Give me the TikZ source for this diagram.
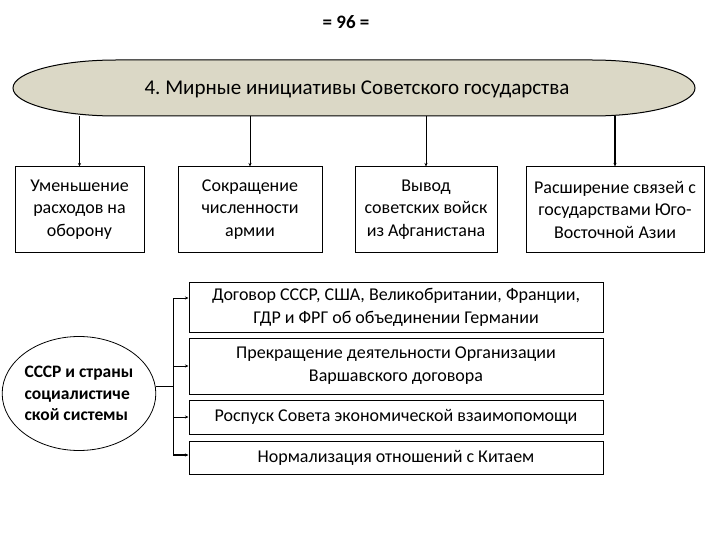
\documentclass[tikz,border=0pt]{standalone}
\usepackage{fontspec}
\setmainfont{Carlito}
\frenchspacing
\usetikzlibrary{arrows.meta,shapes.geometric}
\definecolor{ellfill}{RGB}{219,216,198}
\begin{document}
\begin{tikzpicture}[x=1pt,y=-1pt,
  boxA/.style={draw=black,line width=1pt,align=center,inner sep=2pt,
    font=\fontsize{18}{22.5}\selectfont},
  boxB/.style={draw=black,line width=1pt,align=center,inner sep=2pt,minimum width=414pt,
    font=\fontsize{18}{23}\selectfont},
  conn/.style={draw=black,line width=0.7pt},
  arr/.style={conn,-{Stealth[length=3.5pt,width=3pt]}},
]
\useasboundingbox (0,0) rectangle (720,540);
% page number
\node[font=\fontsize{19}{20}\selectfont\bfseries] (pg) at (346,22) {= 96 =};
% top ellipse
\path[fill=ellfill,draw=black,line width=1pt]
  (116,60) -- (592,60) arc[start angle=-90,end angle=90,x radius=103,y radius=28]
  -- (116,116) arc[start angle=90,end angle=270,x radius=103,y radius=28] -- cycle;
\node[font=\fontsize{21}{24}\selectfont] (title) at (357,89) {4. Мирные инициативы Советского государства};
\coordinate (eb) at (354,116);
% first row
\node[boxA,minimum width=129pt,minimum height=85pt] (b1) at (79.5,209.5) {Уменьшение\\расходов на\\оборону};
\node[boxA,minimum width=144pt,minimum height=85pt] (b2) at (250,209.5) {Сокращение\\численности\\армии};
\node[boxA,minimum width=142pt,minimum height=85pt] (b3) at (426,209.5) {Вывод\\советских войск\\из Афганистана};
\node[boxA,minimum width=178pt,minimum height=85pt] (b4) at (615,209.5) {Расширение связей с\\государствами Юго-\\Восточной Азии};
\draw[arr] (b1.north |- eb) -- (b1.north);
\draw[arr] (b2.north |- eb) -- (b2.north);
\draw[arr] (b3.north |- eb) -- (b3.north);
\draw[arr,line width=1.6pt] (b4.north |- eb) -- (b4.north);
% circle
\node[draw=black,line width=0.8pt,ellipse,minimum width=144pt,minimum height=114pt,inner sep=0pt,
  align=left,font=\fontsize{17.5}{21.5}\selectfont\bfseries] (circ) at (79,393.5)
  {СССР и страны\\социалистиче\\ской системы};
% bottom boxes
\node[boxB,minimum height=50pt] (bA) at (396,307) {Договор СССР, США, Великобритании, Франции,\\ГДР и ФРГ об объединении Германии};
\node[boxB,minimum height=56pt] (bB) at (396,366) {Прекращение деятельности Организации\\Варшавского договора};
\node[boxB,minimum height=34pt] (bC) at (396,417) {Роспуск Совета экономической взаимопомощи};
\node[boxB,minimum height=33pt] (bD) at (396,457.5) {Нормализация отношений с Китаем};
% bus
\coordinate (busT) at (173,298);
\coordinate (busB) at (173,455);
\draw[conn] (circ.5) -- (circ.5 -| busT);
\draw[conn] (busT) -- (busB);
\draw[arr] (busT) -- (busT -| bA.west);
\draw[arr] (bB.west -| busT) -- (bB.west);
\draw[arr] (bC.west -| busT) -- (bC.west);
\draw[arr,line width=1.1pt] (busB) -- (busB -| bD.west);
\end{tikzpicture}
\end{document}
